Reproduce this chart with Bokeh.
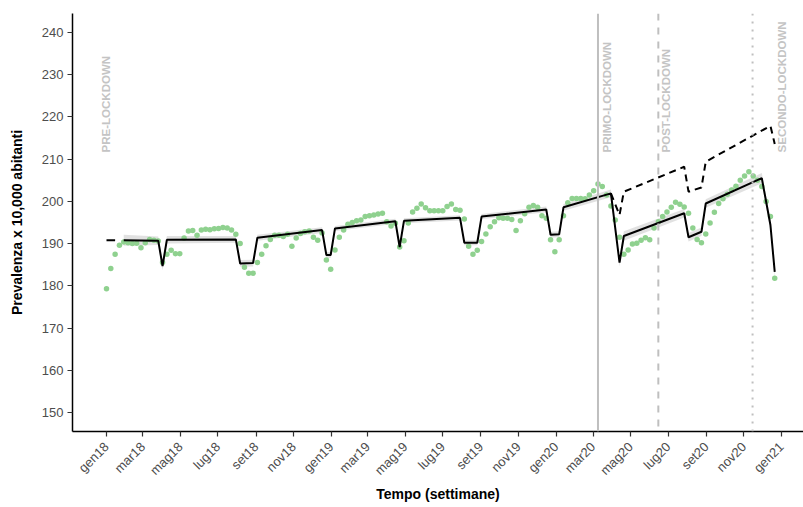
import math
import pandas as pd
from bokeh.plotting import figure
from bokeh.models import FixedTicker, Range1d, Span
from bokeh.core.properties import value
from bokeh.embed import file_html
from bokeh.resources import INLINE

# ---------------- data ----------------
start_date = "2018-01-01"
n_weeks = 156

prevalence = [
    179.3, 184.1, 187.5, 189.6, 190.4, 190.2, 190.0, 190.1, 189.0, 190.2,
    191.0, 190.8, 190.6, 185.5, 187.5, 188.4, 187.6, 187.6, 191.3, 193.0,
    193.1, 192.0, 193.2, 193.4, 193.3, 193.5, 193.6, 193.8, 193.7, 193.2,
    192.2, 190.0, 184.4, 183.0, 183.0, 185.5, 187.5, 189.5, 191.0, 192.0,
    192.0, 191.7, 192.2, 189.4, 191.3, 192.4, 192.8, 193.0, 191.5, 190.8,
    192.5, 186.1, 183.9, 188.5, 191.5, 193.2, 194.6, 195.0, 195.4, 195.6,
    196.4, 196.6, 196.8, 197.0, 197.2, 195.2, 194.2, 194.8, 189.2, 190.7,
    194.9, 197.5, 198.4, 199.4, 198.5, 197.8, 197.8, 197.8, 197.8, 198.8,
    199.4, 198.1, 197.9, 195.8, 189.4, 187.5, 188.4, 190.5, 192.3, 194.0,
    195.2, 196.1, 196.0, 196.0, 195.7, 193.1, 195.4, 197.1, 198.6, 199.0,
    198.6, 196.6, 196.0, 190.9, 188.1, 190.9, 196.6, 199.7, 200.7, 200.7,
    200.7, 200.6, 201.5, 202.5, 204.1, 203.5, 201.5, 198.9, 195.6, 191.5,
    187.5, 188.5, 189.9, 190.1, 190.8, 191.4, 190.9, 193.7, 195.2, 196.4,
    197.5, 198.6, 199.8, 199.3, 198.7, 197.2, 193.7, 191.0, 190.2, 192.3,
    194.9, 197.4, 199.5, 200.6, 201.7, 202.7, 203.6, 205.0, 206.0, 207.0,
    206.0, 205.0, 203.5, 200.0, 196.4, 181.8,
]

# fitted model (vertices, week index)
early_fit_weeks = [0, 2]
early_fit_values = [190.8, 190.8]
fit_weeks = [4, 12, 13, 14, 30, 31, 34, 35, 50, 51, 52, 53, 67, 68, 69,
             82, 83, 86, 87, 102, 103, 105, 106, 117, 119, 120, 134, 135,
             138, 139, 152, 154, 155]
fit_values = [190.8, 190.7, 184.7, 190.9, 191.0, 185.3, 185.4, 191.4, 193.2,
              187.3, 187.3, 193.6, 195.3, 189.2, 195.4, 196.1, 190.2, 190.2,
              196.4, 198.1, 192.1, 192.2, 198.6, 201.9, 185.5, 191.8, 197.2,
              191.5, 192.8, 199.5, 205.5, 194.4, 183.3]
fit_halfwidth = [1.3, 1.0, 1.0, 0.9, 0.8, 0.8, 0.8, 0.7, 0.7, 0.7, 0.7, 0.6,
                 0.6, 0.6, 0.6, 0.6, 0.6, 0.6, 0.6, 0.7, 0.7, 0.7, 0.8, 0.9,
                 0.9, 1.1, 1.0, 1.0, 1.0, 1.0, 1.2, 1.3, 1.5]

# counterfactual (no lockdown)
cf_weeks = [117, 119, 120, 134, 135, 138, 139, 154, 155]
cf_values = [201.9, 196.8, 202.3, 208.2, 202.3, 203.3, 209.4, 217.9, 213.6]

tick_dates = ["2018-01-01", "2018-03-01", "2018-05-01", "2018-07-01",
              "2018-09-01", "2018-11-01", "2019-01-01", "2019-03-01",
              "2019-05-01", "2019-07-01", "2019-09-01", "2019-11-01",
              "2020-01-01", "2020-03-01", "2020-05-01", "2020-07-01",
              "2020-09-01", "2020-11-01", "2021-01-01"]
tick_labels = ["gen18", "mar18", "mag18", "lug18", "set18", "nov18",
               "gen19", "mar19", "mag19", "lug19", "set19", "nov19",
               "gen20", "mar20", "mag20", "lug20", "set20", "nov20", "gen21"]
y_ticks = [150, 160, 170, 180, 190, 200, 210, 220, 230, 240]

event_dates = ["2020-03-09", "2020-06-15", "2020-11-15"]
period_labels = ["PRE-LOCKDOWN", "PRIMO-LOCKDOWN", "POST-LOCKDOWN", "SECONDO-LOCKDOWN"]
period_label_dates = ["2018-01-01", "2020-03-23", "2020-06-28", "2021-01-01"]
period_label_y = [211.6, 211.6, 211.6, 211.6]

# ---------------- helpers ----------------
t0 = pd.Timestamp(start_date)


def day(d):
    return (pd.Timestamp(d) - t0).days


week_x = [7 * i for i in range(n_weeks)]
FONT = "Liberation Sans"

p = figure(width=803, height=507, output_backend="svg", toolbar_location=None,
           x_range=Range1d(-55.2, 1131.7), y_range=Range1d(145.5, 244.5),
           min_border_left=72, min_border_right=0, min_border_top=13,
           min_border_bottom=76)
p.outline_line_color = None
p.xgrid.visible = False
p.ygrid.visible = False
p.background_fill_color = "white"

# ribbon
rib_x = [7 * w for w in fit_weeks]
p.varea(x=rib_x,
        y1=[v - h for v, h in zip(fit_values, fit_halfwidth)],
        y2=[v + h for v, h in zip(fit_values, fit_halfwidth)],
        fill_color="#bdbdbd", fill_alpha=0.45)

# event lines
styles = ["solid", "7 7", "2 6"]
for d, st in zip(event_dates, styles):
    p.add_layout(Span(location=day(d), dimension="height", line_color="#bfbfbf",
                      line_width=2, line_dash=st))

# points
p.scatter(week_x, prevalence, size=5.5, fill_color="#8fd18f",
          line_color=None)

# lines
p.line([7 * w for w in early_fit_weeks], early_fit_values, line_color="black",
       line_width=2)
p.line(rib_x, fit_values, line_color="black", line_width=2)
p.line([7 * w for w in cf_weeks], cf_values, line_color="black", line_width=2,
       line_dash="7 5")

# period labels
p.text(x=[day(d) for d in period_label_dates], y=period_label_y,
       text=period_labels, angle=math.pi / 2, text_align="left",
       text_baseline="middle", text_font=value(FONT), text_font_style="bold",
       text_font_size="11.5px", text_color="#c4c4c4")

# axes
tick_x = [day(d) for d in tick_dates]
p.xaxis.ticker = FixedTicker(ticks=tick_x)
p.xaxis.major_label_overrides = {tx: lab for tx, lab in zip(tick_x, tick_labels)}
p.xaxis.major_label_orientation = math.pi / 4
p.yaxis.ticker = FixedTicker(ticks=y_ticks)

for ax in (p.xaxis[0], p.yaxis[0]):
    ax.axis_line_color = "black"
    ax.axis_line_width = 1.5
    ax.major_tick_line_color = "#333333"
    ax.major_tick_line_width = 1.2
    ax.major_tick_out = 5
    ax.major_tick_in = 0
    ax.minor_tick_line_color = None
    ax.major_label_text_font = FONT
    ax.major_label_text_font_size = "13px"
    ax.major_label_text_color = "#4d4d4d"
    ax.axis_label_text_font = FONT
    ax.axis_label_text_font_size = "14px"
    ax.axis_label_text_font_style = "bold"
    ax.axis_label_text_color = "black"

p.xaxis.axis_label = "Tempo (settimane)"
p.yaxis.axis_label = "Prevalenza x 10,000 abitanti"
p.xaxis.major_label_standoff = 8
p.xaxis.axis_label_standoff = 0
p.yaxis.major_label_standoff = 4
p.yaxis.axis_label_standoff = 14

open("out.html", "w").write(file_html(p, INLINE))
